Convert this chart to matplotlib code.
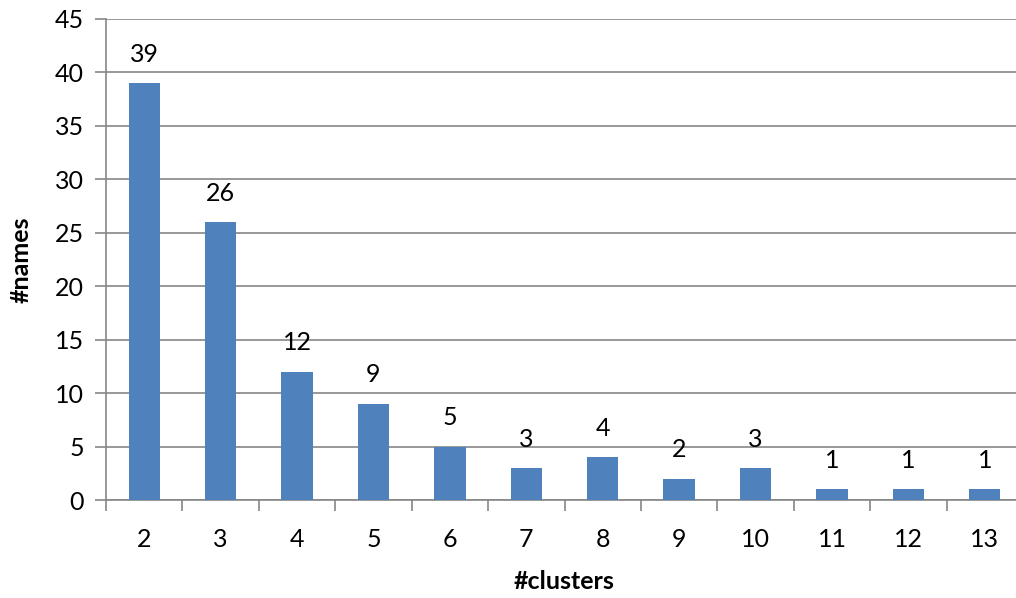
import matplotlib.pyplot as plt
import numpy as np

plt.rcParams['font.family'] = ['Lato', 'DejaVu Sans']
plt.rcParams['font.size'] = 18

clusters = ['2', '3', '4', '5', '6', '7', '8', '9', '10', '11', '12', '13']
names = [39, 26, 12, 9, 5, 3, 4, 2, 3, 1, 1, 1]

fig = plt.figure(figsize=(10.16, 5.98), dpi=100)
ax = fig.add_axes([106 / 1016, 1 - 500 / 598, 917 / 1016, 481 / 598])

x = np.arange(len(clusters))
bars = ax.bar(x, names, width=0.41, color='#4F81BD', zorder=3)
for b, v in zip(bars, names):
    ax.annotate(str(v), (b.get_x() + b.get_width() / 2, v), xytext=(0, 12.5),
                textcoords='offset points', ha='center', va='bottom', fontsize=18)

ax.set_xlim(-0.5, len(clusters) - 0.5)
ax.set_ylim(0, 45)
ax.set_yticks(range(0, 46, 5))
ax.set_xticks(x)
ax.set_xticklabels(clusters)
ax.set_xticks(np.arange(-0.5, len(clusters), 1), minor=True)
ax.tick_params(axis='x', which='major', length=0, pad=20)
ax.tick_params(axis='x', which='minor', length=8, color='#868686', width=1.2)
ax.tick_params(axis='y', length=8, color='#868686', width=1.2, pad=8)
ax.grid(axis='y', color='#868686', linewidth=1.2, zorder=0)

for s in ['top', 'right']:
    ax.spines[s].set_visible(False)
for s in ['left', 'bottom']:
    ax.spines[s].set_color('#868686')
    ax.spines[s].set_linewidth(1.2)

ax.set_xlabel('#clusters', fontweight='bold', fontsize=18, labelpad=14)
ax.set_ylabel('#names', fontweight='bold', fontsize=18, labelpad=16)

fig.savefig('out.png', dpi=100)
